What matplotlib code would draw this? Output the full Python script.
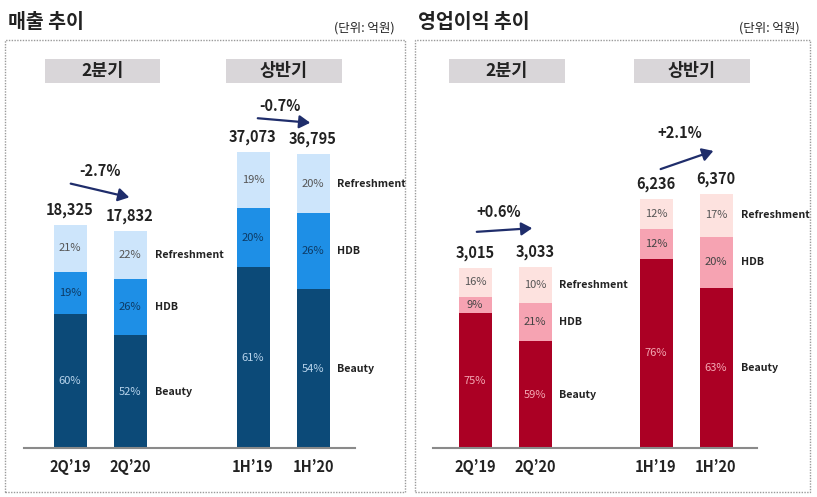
import matplotlib
matplotlib.use("Agg")
import matplotlib.pyplot as plt
from matplotlib.patches import Rectangle, FancyArrowPatch
from matplotlib.lines import Line2D

plt.rcParams['font.family'] = ['Noto Sans CJK KR', 'DejaVu Sans']

# ---- data ----
segments = ['Beauty', 'HDB', 'Refreshment']

sales_q_labels = ['2Q\u201919', '2Q\u201920']
sales_q_total = [18325, 17832]
sales_q_share = {'Beauty': [60, 52], 'HDB': [19, 26], 'Refreshment': [21, 22]}
sales_q_change = '-2.7%'

sales_h_labels = ['1H\u201919', '1H\u201920']
sales_h_total = [37073, 36795]
sales_h_share = {'Beauty': [61, 54], 'HDB': [20, 26], 'Refreshment': [19, 20]}
sales_h_change = '-0.7%'

op_q_labels = ['2Q\u201919', '2Q\u201920']
op_q_total = [3015, 3033]
op_q_share = {'Beauty': [75, 59], 'HDB': [9, 21], 'Refreshment': [16, 10]}
op_q_change = '+0.6%'

op_h_labels = ['1H\u201919', '1H\u201920']
op_h_total = [6236, 6370]
op_h_share = {'Beauty': [76, 63], 'HDB': [12, 20], 'Refreshment': [12, 17]}
op_h_change = '+2.1%'

blue_cols = {'Beauty': '#0c4a78', 'HDB': '#1e8fe6', 'Refreshment': '#cde5fb'}
red_cols = {'Beauty': '#ab0024', 'HDB': '#f6a3b2', 'Refreshment': '#fde2df'}
blue_txt = {'Beauty': '#b8d4ec', 'HDB': '#0d3b66', 'Refreshment': '#555555'}
red_txt = {'Beauty': '#f4a9b4', 'HDB': '#444444', 'Refreshment': '#555555'}
arrow_col = '#1f2d6b'

W, H = 817, 497
fig = plt.figure(figsize=(W / 100, H / 100), dpi=100)
fig.patch.set_facecolor('white')


def fx(px):
    return px / W


def fy(py):
    return 1 - py / H


def group(x_first, bar_px, labels, totals, shares, cols, txtcols, change,
          arrow, change_xy, label_dx=8):
    # one axes per bar group; bar centres at 0 and 1, spaced 60 px apart
    spacing = 60.0
    base = 448
    top = 40
    ax_left = x_first - spacing * 0.8
    ax_right = x_first + spacing * 2.4
    ax = fig.add_axes([fx(ax_left), fy(base), fx(ax_right - ax_left),
                       (base - top) / H])
    ax.set_xlim(-0.8, 2.4)
    ymax = totals[0] * (base - top) / bar_px
    ax.set_ylim(0, ymax)
    ax.axis('off')
    width = 33 / spacing
    x = [0, 1]
    bottoms = [0.0, 0.0]
    for seg in segments:
        if seg == segments[-1]:
            # top segment fills the rest of the total
            h = [t - b for t, b in zip(totals, bottoms)]
        else:
            h = [t * s / 100 for t, s in zip(totals, shares[seg])]
        ax.bar(x, h, width, bottom=bottoms, color=cols[seg], linewidth=0)
        for i in range(2):
            ax.text(x[i], bottoms[i] + h[i] / 2, f'{shares[seg][i]}%',
                    ha='center', va='center', fontsize=8,
                    color=txtcols[seg])
        ax.text(1 + width / 2 + label_dx / spacing, bottoms[1] + h[1] / 2, seg,
                ha='left', va='center', fontsize=7.7, fontweight='bold',
                color='#222222')
        bottoms = [b + v for b, v in zip(bottoms, h)]
    for i in range(2):
        ax.annotate(f'{totals[i]:,}', (x[i], totals[i]), xytext=(0, 5),
                    textcoords='offset points', ha='center', va='bottom',
                    fontsize=10.5, fontweight='bold', color='#222222')
        fig.text(fx(x_first + i * spacing), fy(467), labels[i], ha='center',
                 va='center', fontsize=10.5, fontweight='bold',
                 color='#222222')
    (x0, y0), (x1, y1) = arrow
    fig.patches.append(FancyArrowPatch(
        (fx(x0), fy(y0)), (fx(x1), fy(y1)), transform=fig.transFigure,
        arrowstyle='-|>,head_length=5,head_width=3', color=arrow_col,
        linewidth=1.6, mutation_scale=1.3))
    fig.text(fx(change_xy[0]), fy(change_xy[1]), change, ha='center',
             va='center', fontsize=10.5, fontweight='bold', color='#222222')
    return ax


def panel(x0, x1, title, base_x0, base_x1, headers):
    fig.patches.append(Rectangle((fx(x0), fy(492)), fx(x1 - x0), (492 - 40) / H,
                                 transform=fig.transFigure, fill=False,
                                 edgecolor='#9a9a9a', linewidth=1,
                                 linestyle=(0, (1, 1))))
    fig.text(fx(x0 + 3), fy(22), title, ha='left', va='center', fontsize=14,
             fontweight='bold', color='#222222')
    fig.text(fx(x1 - 10), fy(28), '(단위: 억원)', ha='right', va='center',
             fontsize=9, color='#222222')
    fig.lines.append(Line2D([fx(base_x0), fx(base_x1)], [fy(448), fy(448)],
                            transform=fig.transFigure, color='#8a8a8a',
                            linewidth=1.5))
    for hx0, hx1, txt in headers:
        fig.patches.append(Rectangle((fx(hx0), fy(83)), fx(hx1 - hx0), 24 / H,
                                     transform=fig.transFigure,
                                     facecolor='#d9d6d9', edgecolor='none'))
        fig.text(fx((hx0 + hx1) / 2), fy(71), txt, ha='center', va='center',
                 fontsize=12.5, fontweight='bold', color='#222222')


panel(5, 405, '매출 추이', 24, 355, [(45, 160, '2분기'), (226, 342, '상반기')])
panel(415, 810, '영업이익 추이', 433, 757, [(449, 565, '2분기'), (634, 750, '상반기')])

group(70, 223, sales_q_labels, sales_q_total, sales_q_share, blue_cols,
      blue_txt, sales_q_change, ((68, 183), (132, 198)), (100, 171))
group(253, 296, sales_h_labels, sales_h_total, sales_h_share, blue_cols,
      blue_txt, sales_h_change, ((255, 118), (313, 123)), (280, 106))
group(475, 180, op_q_labels, op_q_total, op_q_share, red_cols,
      red_txt, op_q_change, ((474, 232), (535, 228)), (499, 212))
group(656, 249, op_h_labels, op_h_total, op_h_share, red_cols,
      red_txt, op_h_change, ((658, 170), (716, 150)), (680, 133))

fig.savefig('out.png', dpi=100)
